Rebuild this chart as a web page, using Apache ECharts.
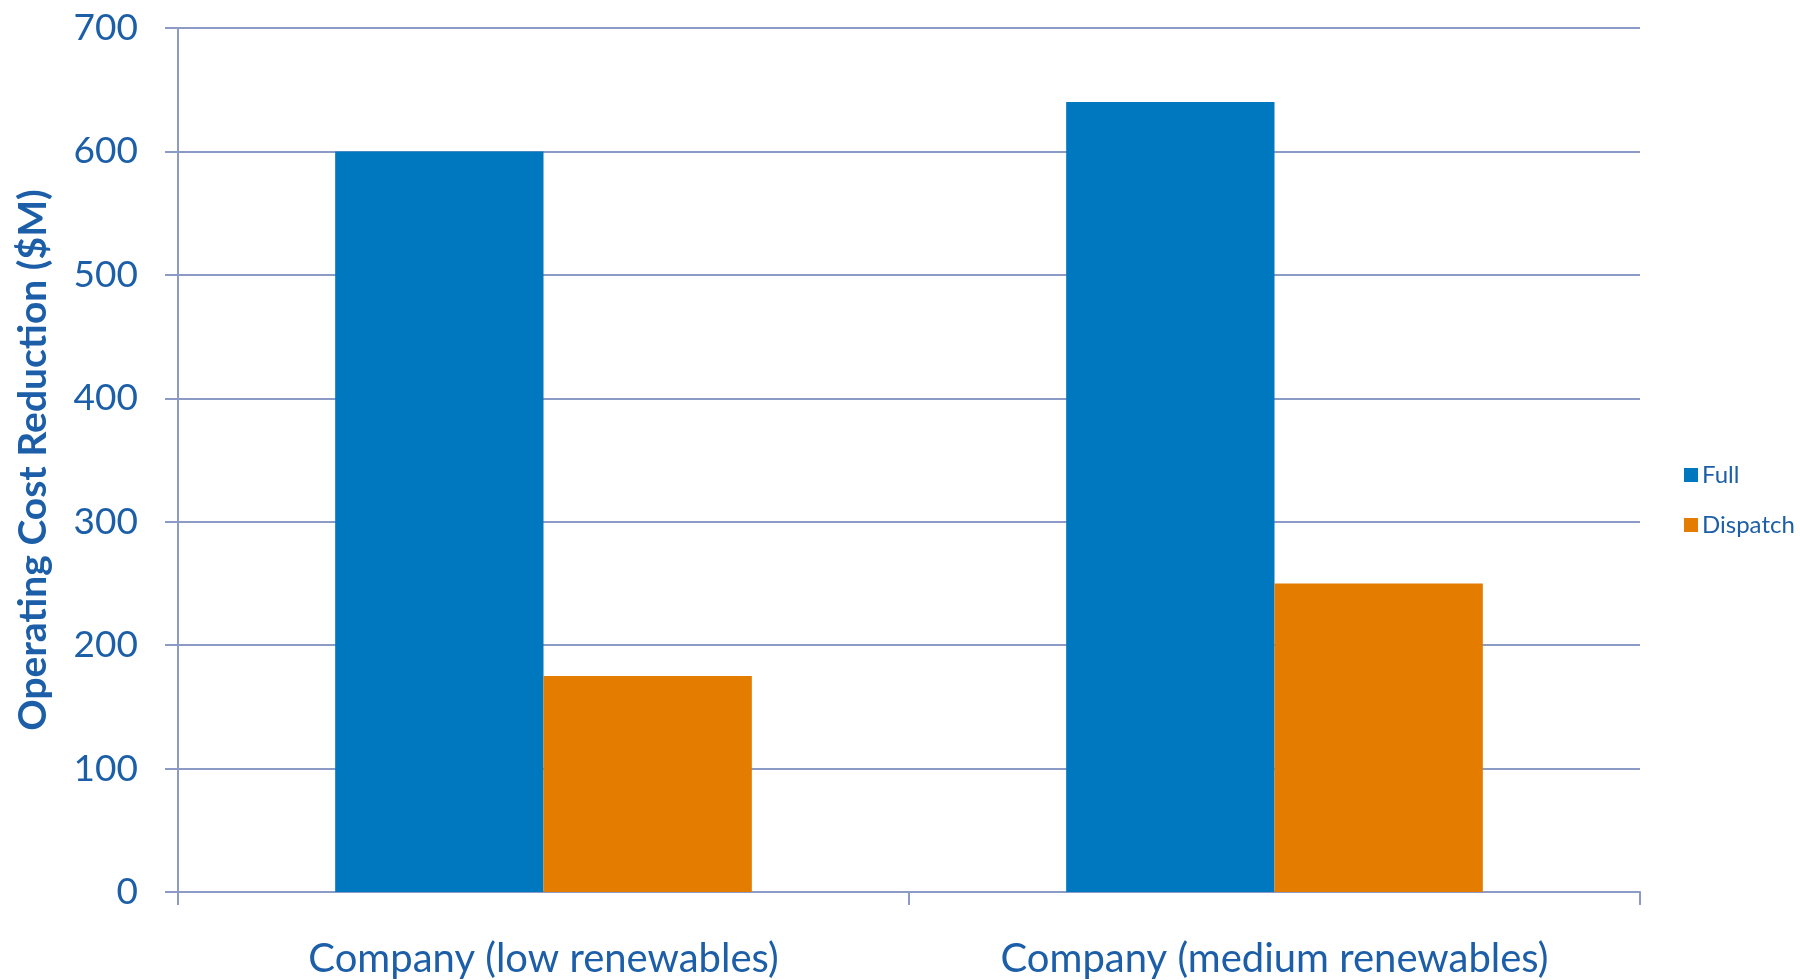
<!DOCTYPE html>
<html>
<head>
<meta charset="utf-8">
<script src="https://cdn.jsdelivr.net/npm/echarts@6/dist/echarts.min.js"></script>
<style>
html,body{margin:0;padding:0;background:#fff;}
#chart{width:1800px;height:980px;}
</style>
</head>
<body>
<div id="chart"></div>
<script>
const categories = ["Company (low renewables)", "Company (medium renewables)"];
const fullValues = [600, 640];
const dispatchValues = [175, 250];
const seriesNames = ["Full", "Dispatch"];
const yTicks = [0, 100, 200, 300, 400, 500, 600, 700];

const textColor = "#1C5FA8";
const gridColor = "#8C9BC5";
const fontFam = "Lato, 'Open Sans', sans-serif";

const chart = echarts.init(document.getElementById('chart'));
chart.setOption({
  animation: false,
  backgroundColor: '#fff',
  grid: { left: 178, right: 160, top: 28, bottom: 88, containLabel: false, outerBoundsMode: 'none' },
  legend: {
    orient: 'vertical',
    left: 1679,
    top: 458,
    itemWidth: 14,
    itemHeight: 14,
    itemGap: 26,
    icon: 'rect',
    textStyle: { color: textColor, fontSize: 24, fontFamily: fontFam, padding: [0,0,0,-1] },
    data: seriesNames
  },
  xAxis: {
    type: 'category',
    data: categories,
    axisLine: { lineStyle: { color: gridColor, width: 2 } },
    axisTick: { show: true, length: 13, lineStyle: { color: gridColor, width: 2 } },
    axisLabel: { color: textColor, fontSize: 40, fontFamily: fontFam, margin: 47 },
  },
  yAxis: {
    type: 'value',
    min: yTicks[0],
    max: yTicks[yTicks.length - 1],
    interval: 100,
    name: 'Operating Cost Reduction ($M)',
    nameLocation: 'middle',
    nameGap: 125,
    nameTextStyle: { color: textColor, fontSize: 39, fontWeight: 'bold', fontFamily: fontFam },
    axisLine: { show: true, lineStyle: { color: gridColor, width: 2 } },
    axisTick: { show: true, length: 13, lineStyle: { color: gridColor, width: 2 } },
    axisLabel: { color: textColor, fontSize: 37, fontFamily: fontFam, margin: 40 },
    splitLine: { lineStyle: { color: gridColor, width: 2 } }
  },
  series: [
    { name: seriesNames[0], type: 'bar', data: fullValues, barWidth: '28.5%', barGap: '0%',
      itemStyle: { color: '#0078C0' } },
    { name: seriesNames[1], type: 'bar', data: dispatchValues, barWidth: '28.5%', barGap: '0%',
      itemStyle: { color: '#E47C00' } }
  ]
});
</script>
</body>
</html>
